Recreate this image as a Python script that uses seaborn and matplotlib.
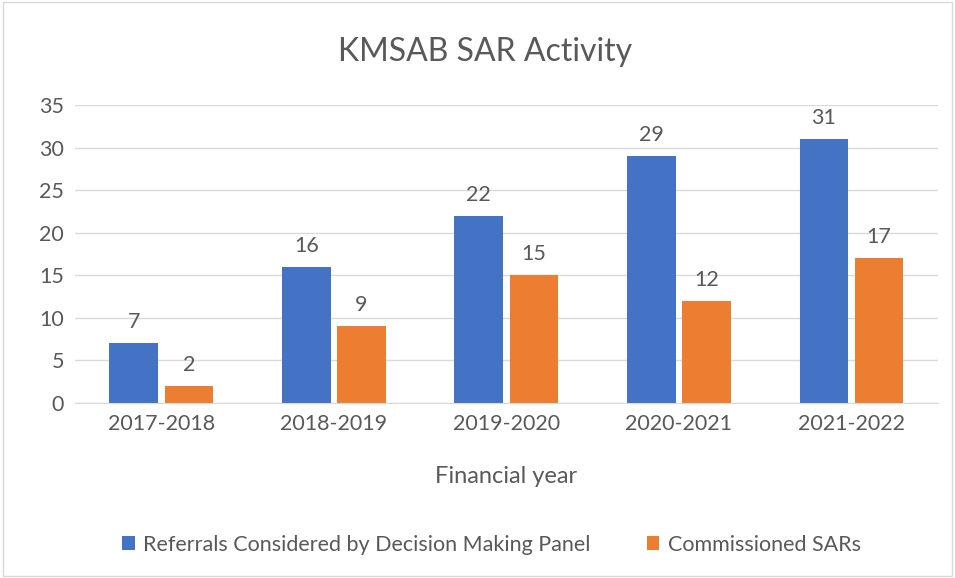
import pandas as pd
import matplotlib.pyplot as plt
import seaborn as sns

# Chart data
years = ['2017-2018', '2018-2019', '2019-2020', '2020-2021', '2021-2022']
referrals = [7, 16, 22, 29, 31]
commissioned = [2, 9, 15, 12, 17]
series_names = ['Referrals Considered by Decision Making Panel', 'Commissioned SARs']

df = pd.DataFrame({
    'year': years * 2,
    'value': referrals + commissioned,
    'series': [series_names[0]] * len(years) + [series_names[1]] * len(years),
})

sns.set_style('white')
plt.rcParams['font.family'] = ['Lato', 'DejaVu Sans']
text_color = '#595959'

fig = plt.figure(figsize=(9.55, 5.78), dpi=100)
ax = fig.add_axes([0.0785, 0.303, 0.9035, 0.515])

sns.barplot(data=df, x='year', y='value', hue='series',
            palette=['#4472C4', '#ED7D31'], width=0.64, gap=0.12,
            saturation=1, linewidth=0, ax=ax, legend=True)

for container in ax.containers:
    ax.bar_label(container, padding=8, fontsize=15.5, color=text_color)

ax.set_ylim(0, 35)
ax.set_yticks(range(0, 36, 5))
ax.yaxis.grid(True, color='#D9D9D9', linewidth=1)
ax.set_axisbelow(True)
for side in ['left', 'right', 'top']:
    ax.spines[side].set_visible(False)
ax.spines['bottom'].set_color('#D9D9D9')
ax.tick_params(axis='both', length=0, labelsize=15.5, labelcolor=text_color, pad=8)
ax.set_ylabel('')
ax.set_xlabel('Financial year', fontsize=17, color=text_color, labelpad=23)

fig.text(0.508, 0.91, 'KMSAB SAR Activity', fontsize=23, color=text_color,
         ha='center', va='center')

ax.legend(loc='center', bbox_to_anchor=(0.4826, -0.477), ncol=2, frameon=False,
          fontsize=15.5, labelcolor=text_color, handlelength=0.6, handleheight=0.6,
          columnspacing=2.6, handletextpad=0.4)

# Light border around the chart
fig.patches.append(plt.Rectangle((0.003, 0.004), 0.994, 0.992, transform=fig.transFigure,
                                 fill=False, edgecolor='#D9D9D9', linewidth=1))

fig.savefig('out.png', dpi=100)
